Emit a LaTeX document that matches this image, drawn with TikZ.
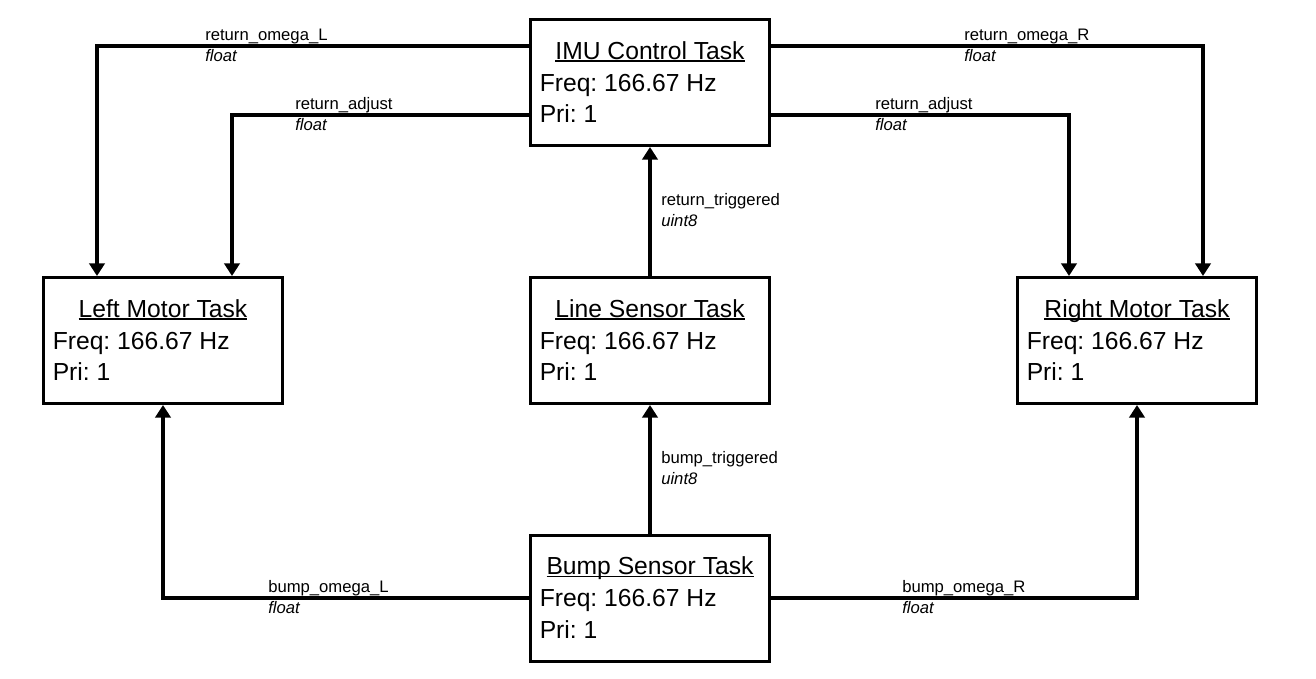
\documentclass[tikz,border=0pt]{standalone}
\usepackage{fontspec}
\setmainfont{Liberation Sans}
\frenchspacing
\usetikzlibrary{arrows.meta,calc}
\newcommand\myul[1]{\setbox0\hbox{#1}\rlap{\rule[-1.8pt]{\wd0}{0.95pt}}\box0}
\newcommand\mytask[4]{%
  \node[box] (#1) at (#2,#3) {};
  \node[ttl] (#1-t) at ($(#1.north)+(0,41.3)$) {\myul{#4}};
  \node[ln] (#1-f) at ($(#1.north west)+(10.5,73)$) {Freq: 166.67 Hz};
  \node[ln] (#1-p) at ($(#1.north west)+(10.5,104.7)$) {Pri: 1};
}
\begin{document}
\begin{tikzpicture}[x=0.75pt,y=-0.75pt,
  box/.style={draw,line width=2.25pt,inner sep=0pt,minimum width=179.25pt,minimum height=94.5pt},
  ttl/.style={anchor=base,inner sep=0pt,font=\fontsize{18.5}{22}\selectfont\frenchspacing},
  ln/.style={anchor=base west,inner sep=0pt,font=\fontsize{18.5}{22}\selectfont\frenchspacing},
  lab/.style={anchor=base west,inner sep=0pt,font=\fontsize{12.5}{15}\selectfont},
  conn/.style={line width=3pt,-{Triangle[width=11.5pt,length=9.5pt]}}]
\fill[white] (0,0) rectangle (1316,678);
\useasboundingbox (0,0) rectangle (1316,678);

\mytask{imu}{650}{82.5}{IMU Control Task}
\mytask{lm}{163}{340.5}{Left Motor Task}
\mytask{ls}{650}{340.5}{Line Sensor Task}
\mytask{rm}{1137}{340.5}{Right Motor Task}
\mytask{bs}{650}{598}{Bump Sensor Task}

% IMU -> motors
\draw[conn] (imu.west |- 0,46) -| (lm.north -| 97,0);
\draw[conn] (imu.west |- 0,114.7) -| (lm.north -| 232,0);
\draw[conn] (imu.east |- 0,46) -| (rm.north -| 1203,0);
\draw[conn] (imu.east |- 0,114.7) -| (rm.north -| 1069,0);
% vertical
\draw[conn] (ls.north) -- (imu.south);
\draw[conn] (bs.north) -- (ls.south);
% bump -> motors
\draw[conn] (bs.west) -| (lm.south);
\draw[conn] (bs.east) -| (rm.south);

% labels
\node[lab] (l1) at (205,40.7) {return\_omega\_L};
\node[lab] (l1t) at (205,61.2) {\textit{float}};
\node[lab] (l2) at (295,109.3) {return\_adjust};
\node[lab] (l2t) at (295,130) {\textit{float}};
\node[lab] (r1) at (964,40.7) {return\_omega\_R};
\node[lab] (r1t) at (964,61.2) {\textit{float}};
\node[lab] (r2) at (875,109.3) {return\_adjust};
\node[lab] (r2t) at (875,130) {\textit{float}};
\node[lab] (m1) at (661,205.5) {return\_triggered};
\node[lab] (m1t) at (661,226) {\textit{uint8}};
\node[lab] (m2) at (661,463.5) {bump\_triggered};
\node[lab] (m2t) at (661,484) {\textit{uint8}};
\node[lab] (b1) at (268,592.5) {bump\_omega\_L};
\node[lab] (b1t) at (268,613) {\textit{float}};
\node[lab] (b2) at (902,592.5) {bump\_omega\_R};
\node[lab] (b2t) at (902,613) {\textit{float}};
\end{tikzpicture}
\end{document}
